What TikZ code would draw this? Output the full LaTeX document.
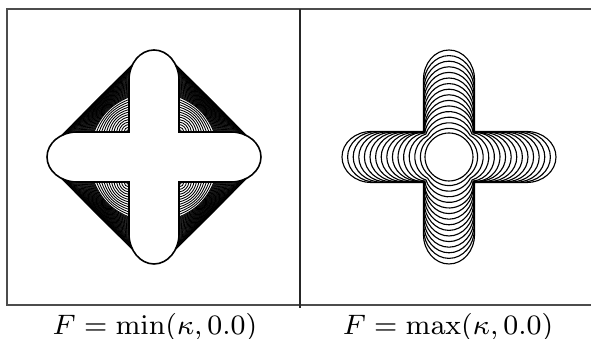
\documentclass[tikz,border=0pt]{standalone}
\usepackage{amsmath}

% outline of two crossed arms: #2 = half length of the straight part,
% #3 = half width, #4 = length of the rounded tip
\newcommand{\drawcross}[4][]{%
  \draw[#1] (#3,#3) -- (#2,#3) arc[start angle=90,end angle=-90,x radius=#4,y radius=#3]
    -- (#3,-#3) -- (#3,-#2) arc[start angle=0,end angle=-180,x radius=#3,y radius=#4]
    -- (-#3,-#3) -- (-#2,-#3) arc[start angle=270,end angle=90,x radius=#4,y radius=#3]
    -- (-#3,#3) -- (-#3,#2) arc[start angle=180,end angle=0,x radius=#3,y radius=#4] -- cycle;}

\begin{document}
\begin{tikzpicture}[x=1cm,y=1cm]
    \tikzset{frame line/.style={draw=black!70, line width=0.35pt},
             divider/.style={draw=black!85, line width=0.7pt},
             flow curve/.style={draw=black, line width=0.25pt},
             first curve/.style={draw=black, line width=0.45pt},
             shrink curve/.style={draw=black, line width=0.32pt},
             caption/.style={font=\fontsize{7.6}{9}\selectfont, inner sep=0pt}}
    \useasboundingbox (0,0) rectangle (5.91,-3.39);

    \draw[frame line] (5.91,-0.09) -- (0.07,-0.09) -- (0.07,-3.05) -- (5.91,-3.05);
    \draw[divider] (3.00,-0.09) -- (3.00,-3.08);

    % F = min(kappa,0): the concave corners fill up towards the hull
    \begin{scope}[shift={(1.54,-1.57)}]
        \foreach \q in {0,90,180,270}{
            \begin{scope}[rotate=\q]
                \foreach \k in {1,...,46}{
                    \pgfmathsetmacro\rr{\k<=14 ? 0.025*\k : 0.35+0.321*(\k-14)/32}
                    \pgfmathsetmacro\sf{\rr/0.671}
                    \pgfmathsetmacro\ph{90-(\rr-0.52)*180/(pi*0.27)}
                    \pgfmathsetmacro\ex{\rr<0.52 ? 0.25+\rr : 0.77+0.30*cos(\ph)}
                    \pgfmathsetmacro\ey{\rr<0.52 ? 0.25 : 0.25*sin(\ph)}
                    \pgfmathsetmacro\cl{0.5537*(\ex-\ey)}
                    \pgfmathsetmacro\ao{90+45*\sf}
                    \pgfmathsetmacro\ai{-45*\sf}
                    \draw[flow curve] (\ex,\ey)
                        .. controls +(\ao:\cl) and +(\ai:\cl) .. (\ey,\ex);
                }
            \end{scope}
        }
        \drawcross[first curve]{0.77}{0.25}{0.30}
    \end{scope}

    % F = max(kappa,0): the arms shrink back to a circle
    \begin{scope}[shift={(4.49,-1.57)}]
        \foreach \k in {0,...,15}{
            \pgfmathsetmacro\bw{0.255-0.016*\k/15}
            \pgfmathsetmacro\tl{1.07-0.056*\k}
            \pgfmathsetmacro\cw{1.15*\bw}
            \pgfmathsetmacro\hl{\tl-\cw}
            \ifdim\hl pt<\bw pt
                \pgfmathsetmacro\hl{max(\tl-\bw,0.001)}
                \pgfmathsetmacro\tc{(\hl+sqrt(2*\bw*\bw-\hl*\hl))/2}
                \pgfmathsetmacro\ac{atan2(\tc,\tc-\hl)}
                \draw[shrink curve] (\hl,0) ++(-\ac:\bw)
                    arc[start angle=-\ac,end angle=\ac,radius=\bw]
                    arc[start angle=90-\ac,end angle=90+\ac,radius=\bw]
                    arc[start angle=180-\ac,end angle=180+\ac,radius=\bw]
                    arc[start angle=270-\ac,end angle=270+\ac,radius=\bw] -- cycle;
            \else
                \drawcross[shrink curve]{\hl}{\bw}{\cw}
            \fi
        }
    \end{scope}

    \node[caption] (capmin) at (1.55,-3.27) {$F = \min(\kappa, 0.0)$};
    \node[caption] (capmax) at (4.48,-3.27) {$F = \max(\kappa, 0.0)$};
\end{tikzpicture}
\end{document}
